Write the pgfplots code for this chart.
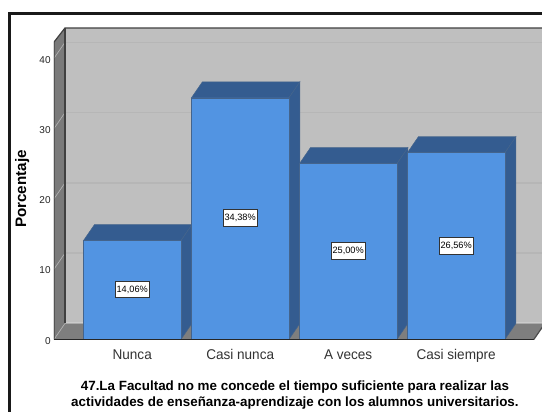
\documentclass[border=0pt]{standalone}
\usepackage{pgfplots}
\pgfplotsset{compat=1.18}
\usepackage{fontspec}
\setmainfont{Liberation Sans}
\definecolor{wall}{HTML}{BFBFBF}
\definecolor{gridc}{HTML}{B6B6B6}
\definecolor{side}{HTML}{7A7A7A}
\definecolor{floorc}{HTML}{7E7E7E}
\definecolor{barf}{HTML}{5294E2}
\definecolor{bard}{HTML}{345C90}
\definecolor{edgeb}{HTML}{44648C}
\begin{document}
\begin{tikzpicture}
\begin{scope}[x=.75pt,y=-.75pt]
\path[use as bounding box,fill=white] (0,0) rectangle (542,412);
\draw[black!90,line width=1.6pt] (9.5,412) -- (9.5,13.5) -- (542,13.5);
\end{scope}
\begin{axis}[
  at={(40.5pt,-254.625pt)}, anchor=south west,
  scale only axis, width=366pt, height=233.625pt,
  xmin=-0.7245, xmax=3.794, ymin=0, ymax=44.31,
  axis line style={draw=none},
  major tick length=0pt,
  xtick={0,1,2,3},
  xticklabels={Nunca,Casi nunca,A veces,Casi siempre},
  ytick={0,10,20,30,40},
  xticklabel style={font=\fontsize{10.6}{12}\selectfont,text=black!80,yshift=-4pt,xscale=0.96},
  yticklabel style={font=\fontsize{7.5}{9}\selectfont,text=black!85,xshift=1pt,yshift=-1pt},
  /pgf/number format/assume math mode=true,
  xlabel={47.La Facultad no me concede el tiempo suficiente para realizar las\\actividades de enseñanza-aprendizaje con los alumnos universitarios.},
  every axis x label/.style={at={(axis cs:1.507,-7.95)},anchor=center,align=center,
    font=\bfseries\fontsize{10.05}{12}\selectfont},
  ylabel={Porcentaje},
  every axis y label/.style={at={(axis cs:-1.02,21.4)},anchor=center,rotate=90,
    font=\bfseries\fontsize{11.4}{12}\selectfont},
]
% back wall
\addplot[fill=wall,draw=none] coordinates {(-0.6227,2.276) (3.9,2.276) (3.9,44.31) (-0.6227,44.31)} -- cycle;
% left wall
\addplot[fill=side,draw=none] coordinates {(-0.7245,0) (-0.6227,2.276) (-0.6227,44.31) (-0.7245,42.3)} -- cycle;
% floor
\addplot[fill=floorc,draw=none] coordinates {(-0.7245,0) (3.7199,0) (3.8218,2.276) (-0.6227,2.276)} -- cycle;
% grid on back wall
\addplot[gridc,line width=1pt] coordinates {(-0.6227,12.276) (3.9,12.276)};
\addplot[gridc,line width=1pt] coordinates {(-0.6227,22.276) (3.9,22.276)};
\addplot[gridc,line width=1pt] coordinates {(-0.6227,32.276) (3.9,32.276)};
\addplot[gridc,line width=1pt] coordinates {(-0.6227,42.276) (3.9,42.276)};
\addplot[gridc!70!white,line width=.6pt] coordinates {(-0.6227,2.4) (3.9,2.4)};
% grid on left wall
\addplot[gray!60,line width=.5pt] coordinates {(-0.7245,0) (-0.6227,2.276)};
\addplot[gray!60,line width=.5pt] coordinates {(-0.7245,10) (-0.6227,12.276)};
\addplot[gray!60,line width=.5pt] coordinates {(-0.7245,20) (-0.6227,22.276)};
\addplot[gray!60,line width=.5pt] coordinates {(-0.7245,30) (-0.6227,32.276)};
\addplot[gray!60,line width=.5pt] coordinates {(-0.7245,40) (-0.6227,42.276)};
% wall edges
\addplot[black!75,line width=.9pt] coordinates {(-0.7245,0) (-0.7245,42.3) (-0.6227,44.31) (3.9,44.31)};
\addplot[black!75,line width=.9pt] coordinates {(-0.6227,2.276) (-0.6227,44.31)};
% bar tops and sides
\addplot[fill=bard,draw=edgeb,line width=.4pt] coordinates {(-0.4514,14.06) (0.4514,14.06) (0.5532,16.336) (-0.3496,16.336)} -- cycle;
\addplot[fill=bard,draw=edgeb,line width=.4pt] coordinates {(0.4514,0) (0.5532,2.276) (0.5532,16.336) (0.4514,14.06)} -- cycle;
\addplot[fill=bard,draw=edgeb,line width=.4pt] coordinates {(0.5486,34.38) (1.4514,34.38) (1.5532,36.656) (0.6504,36.656)} -- cycle;
\addplot[fill=bard,draw=edgeb,line width=.4pt] coordinates {(1.4514,0) (1.5532,2.276) (1.5532,36.656) (1.4514,34.38)} -- cycle;
\addplot[fill=bard,draw=edgeb,line width=.4pt] coordinates {(1.5486,25) (2.4514,25) (2.5532,27.276) (1.6504,27.276)} -- cycle;
\addplot[fill=bard,draw=edgeb,line width=.4pt] coordinates {(2.4514,0) (2.5532,2.276) (2.5532,27.276) (2.4514,25)} -- cycle;
\addplot[fill=bard,draw=edgeb,line width=.4pt] coordinates {(2.5486,26.56) (3.4514,26.56) (3.5532,28.836) (2.6504,28.836)} -- cycle;
\addplot[fill=bard,draw=edgeb,line width=.4pt] coordinates {(3.4514,0) (3.5532,2.276) (3.5532,28.836) (3.4514,26.56)} -- cycle;
% bars
\addplot[ybar,bar width=0.9028,fill=barf,draw=edgeb,line width=.4pt] coordinates {(0,14.06) (1,34.38) (2,25) (3,26.56)};
% base line
\addplot[black!85,line width=.9pt] coordinates {(-0.7245,0) (3.7199,0)};
\addplot[black!70,line width=.9pt] coordinates {(3.7199,0) (3.8218,2.276)};
% data labels
\addplot[only marks,mark=none,point meta=explicit symbolic,nodes near coords,
  nodes near coords style={anchor=center,fill=white,draw=black!80,line width=.6pt,
    inner sep=0pt,minimum width=25.5pt,minimum height=12.5pt,
    font=\fontsize{6.9}{8}\selectfont,text=black}]
  table[meta=label] {
x y label
0 7.1 {14,06\%}
1 17.3 {34,38\%}
2 12.6 {25,00\%}
3 13.3 {26,56\%}
};
\end{axis}
\end{tikzpicture}
\end{document}
